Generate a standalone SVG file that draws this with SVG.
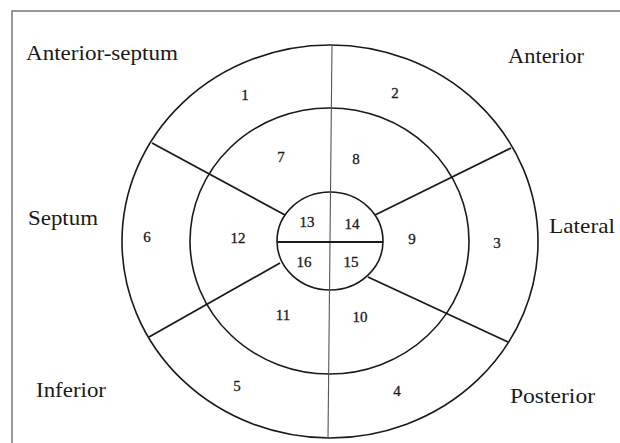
<svg xmlns="http://www.w3.org/2000/svg" width="620" height="443" viewBox="0 0 620 443">
<style>
.ring{fill:none;stroke:#1a1a1a;stroke-width:1.6}
.spoke{stroke:#1a1a1a;stroke-width:1.8;fill:none}
.axis{stroke:#555;stroke-width:1.1;fill:none}
.num{font-family:"Liberation Serif",serif;font-size:15px;fill:#1a1a1a;stroke:#1a1a1a;stroke-width:0.3;text-anchor:middle}
.lab{font-family:"Liberation Serif",serif;font-size:21px;fill:#1a1a1a}
</style>
<rect width="620" height="443" fill="#fff"/>
<path d="M12,443 V11 H620" fill="none" stroke="#777" stroke-width="1.5"/>
<g id="rings">
<ellipse id="outer" class="ring" cx="330" cy="241.5" rx="208" ry="196.5"/>
<ellipse id="middle" class="ring" cx="329.5" cy="241" rx="139.5" ry="133"/>
<ellipse id="inner" class="ring" cx="330" cy="241" rx="53" ry="49"/>
</g>
<g id="connectors">
<line class="axis" x1="332" y1="45" x2="328" y2="438"/>
<line class="spoke" x1="277" y1="242" x2="383" y2="242"/>
<line class="spoke" x1="152" y1="143" x2="285" y2="215"/>
<line class="spoke" x1="511" y1="148" x2="375" y2="215"/>
<line class="spoke" x1="149" y1="337" x2="280" y2="263"/>
<line class="spoke" x1="508" y1="342" x2="368" y2="277"/>
</g>
<g id="segments">
<text class="num" x="245" y="100">1</text>
<text class="num" x="395" y="98">2</text>
<text class="num" x="497" y="248">3</text>
<text class="num" x="397" y="396">4</text>
<text class="num" x="237" y="391">5</text>
<text class="num" x="147" y="242">6</text>
<text class="num" x="281" y="162">7</text>
<text class="num" x="356" y="164">8</text>
<text class="num" x="412" y="244">9</text>
<text class="num" x="360" y="322">10</text>
<text class="num" x="283" y="320">11</text>
<text class="num" x="238" y="243">12</text>
<text class="num" x="307" y="227">13</text>
<text class="num" x="352" y="229">14</text>
<text class="num" x="351" y="267">15</text>
<text class="num" x="304" y="267">16</text>
</g>
<g id="regions">
<text class="lab" x="26" y="60" textLength="152" lengthAdjust="spacingAndGlyphs">Anterior-septum</text>
<text class="lab" x="508" y="63" textLength="76" lengthAdjust="spacingAndGlyphs">Anterior</text>
<text class="lab" x="28" y="225" textLength="70" lengthAdjust="spacingAndGlyphs">Septum</text>
<text class="lab" x="549" y="233" textLength="66" lengthAdjust="spacingAndGlyphs">Lateral</text>
<text class="lab" x="36" y="397" textLength="70" lengthAdjust="spacingAndGlyphs">Inferior</text>
<text class="lab" x="510" y="403" textLength="85" lengthAdjust="spacingAndGlyphs">Posterior</text>
</g>
</svg>
